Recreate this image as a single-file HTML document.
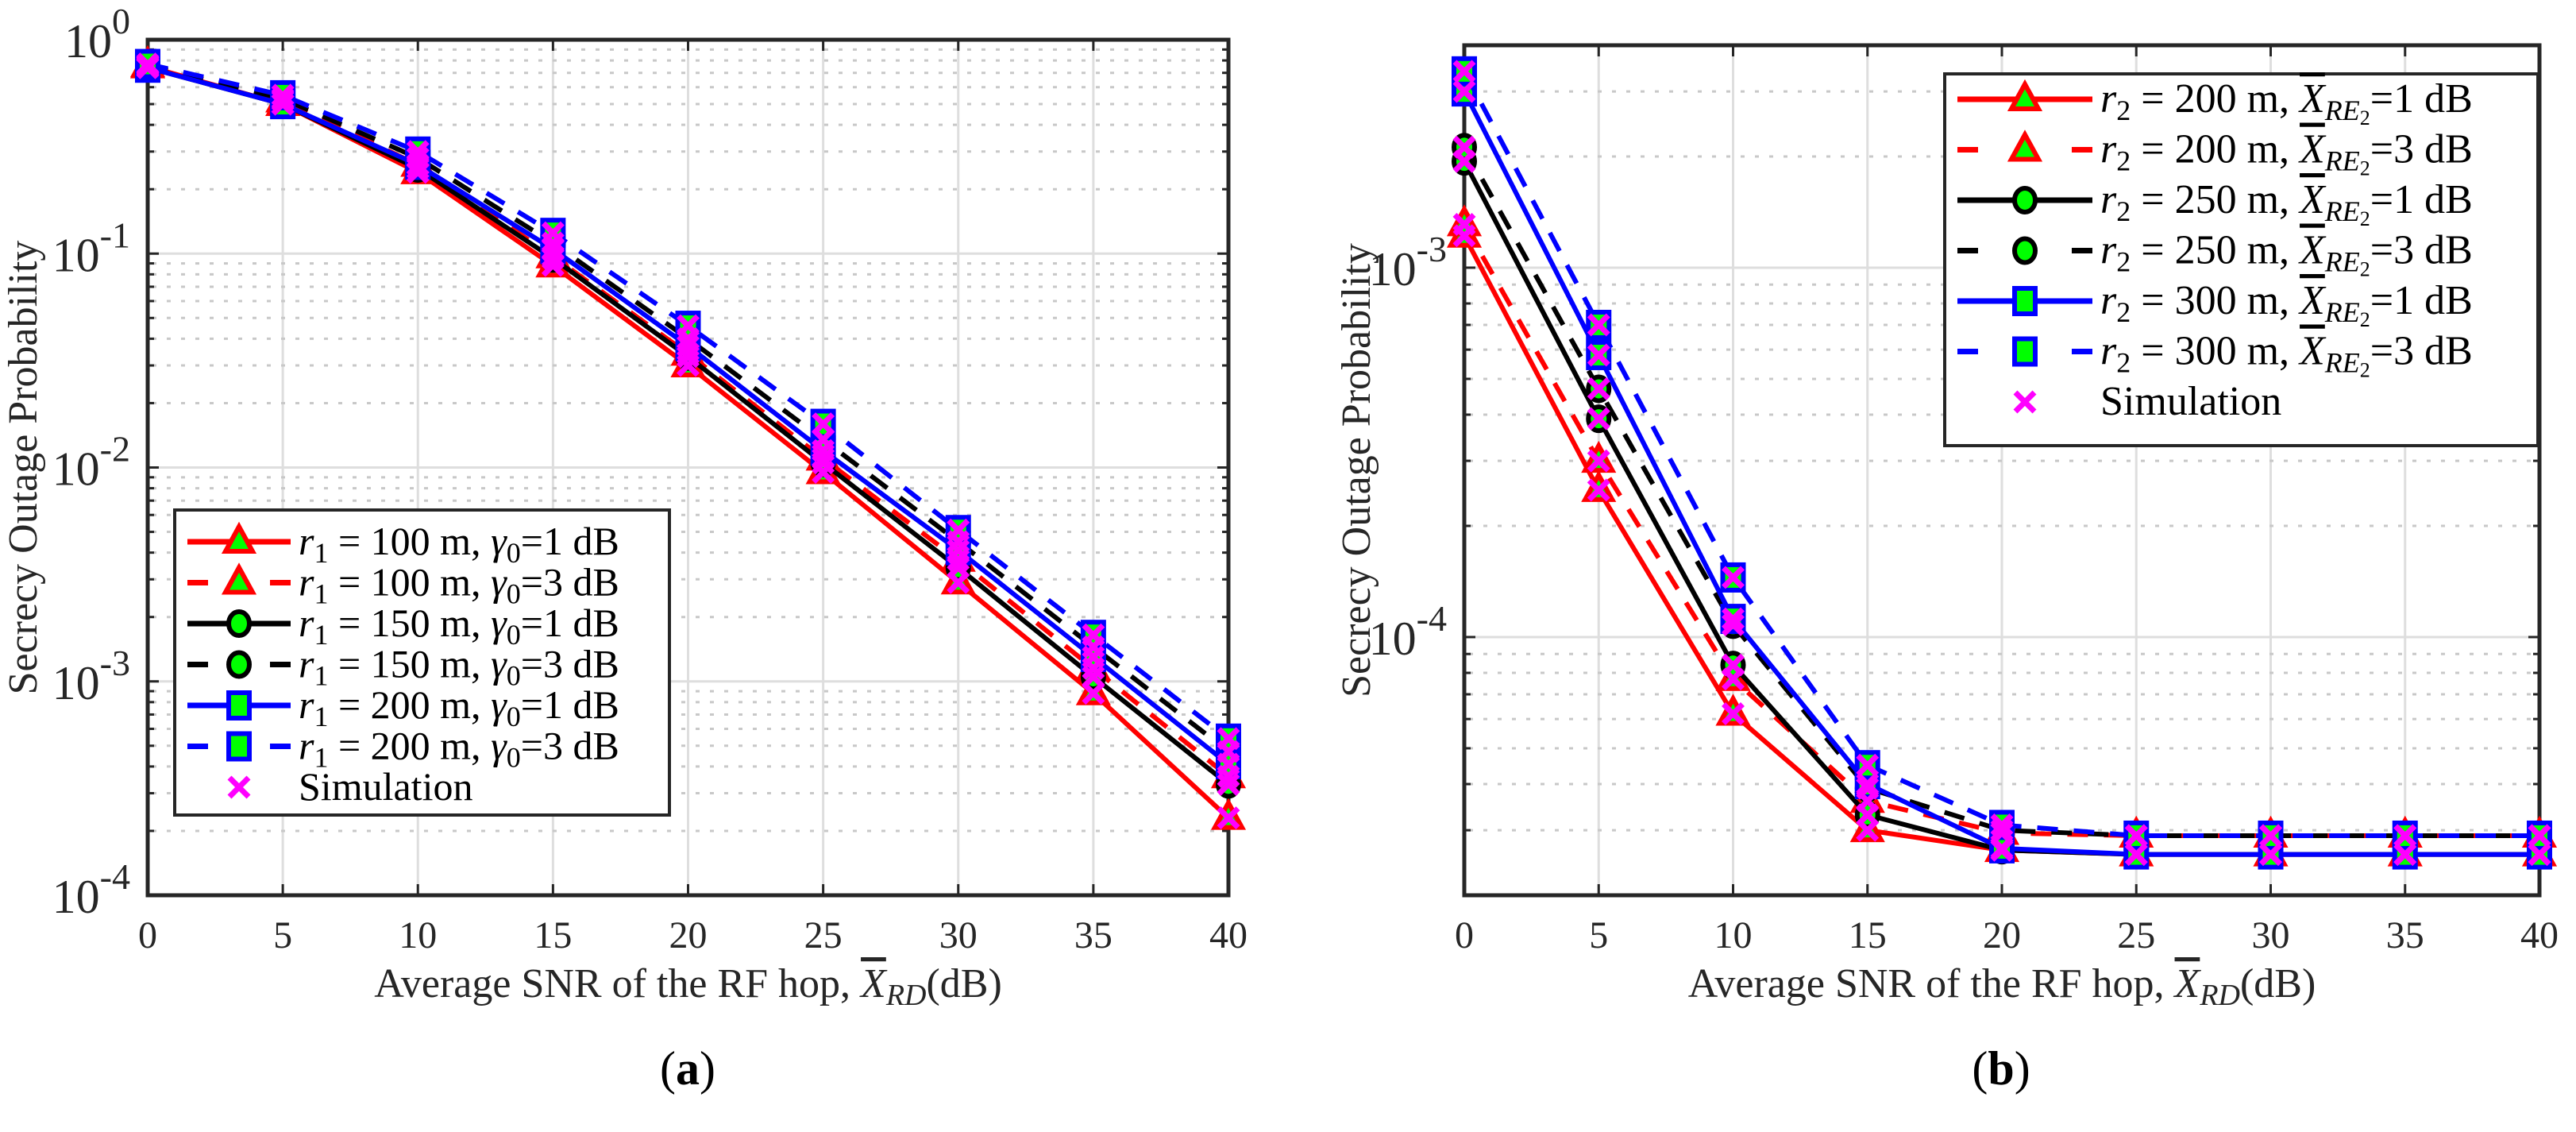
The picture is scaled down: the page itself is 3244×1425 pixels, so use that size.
<!DOCTYPE html>
<html><head><meta charset="utf-8"><style>
html,body{margin:0;padding:0;background:#fff;}
svg{display:block;}
svg text, svg tspan{font-family:"Liberation Serif","DejaVu Serif",serif !important;}
</style></head><body>
<svg id="fig" width="3244" height="1425" viewBox="0 0 3244 1425" xmlns="http://www.w3.org/2000/svg" font-family="Liberation Serif, DejaVu Serif, serif">
<rect width="3244" height="1425" fill="#fff"/>
<g id="plotA"></g>
<g id="plotB"></g>
<text x="866" y="1365" font-size="60" text-anchor="middle" fill="#000">(<tspan font-weight="bold">a</tspan>)</text>
<text x="2520" y="1365" font-size="60" text-anchor="middle" fill="#000">(<tspan font-weight="bold">b</tspan>)</text>
</svg>
<script>
const xVals=[0,5,10,15,20,25,30,35,40];
const xTicks=[0,5,10,15,20,25,30,35,40];
// Plot (a)
const aR1=[0.75,0.50,0.24,0.088,0.030,0.0095,0.0029,0.00088,0.00023];
const aR3=[0.76,0.52,0.26,0.097,0.034,0.011,0.0037,0.00115,0.00036];
const aK1=[0.74,0.50,0.25,0.095,0.033,0.0105,0.0034,0.00105,0.00033];
const aK3=[0.76,0.53,0.28,0.112,0.040,0.0135,0.0045,0.00145,0.00047];
const aB1=[0.74,0.50,0.26,0.105,0.037,0.012,0.0041,0.0013,0.00041];
const aB3=[0.77,0.55,0.30,0.125,0.046,0.016,0.0051,0.00165,0.00054];
// Plot (b)
const bR1=[0.00122,0.00025,0.000062,0.000030,0.0000265,0.0000258,0.0000258,0.0000258,0.0000258];
const bR3=[0.00131,0.00030,0.000077,0.000036,0.0000295,0.000029,0.000029,0.000029,0.000029];
const bK1=[0.00194,0.00039,0.000084,0.000033,0.0000265,0.0000258,0.0000258,0.0000258,0.0000258];
const bK3=[0.00212,0.00047,0.000108,0.000039,0.000030,0.000029,0.000029,0.000029,0.000029];
const bB1=[0.00300,0.00058,0.000112,0.000040,0.0000268,0.0000258,0.0000258,0.0000258,0.0000258];
const bB3=[0.00340,0.00070,0.000145,0.000045,0.000031,0.000029,0.000029,0.000029,0.000029];

const NS="http://www.w3.org/2000/svg";
function el(tag,attrs,parent){const e=document.createElementNS(NS,tag);for(const k in attrs)e.setAttribute(k,attrs[k]);parent.appendChild(e);return e;}

function marker(g,type,cx,cy){
  let m;
  if(type==='tri'){
    m=el('polygon',{points:`${cx},${cy-19} ${cx-17},${cy+12} ${cx+17},${cy+12}`,fill:'#00ff00',stroke:'#ff0000','stroke-width':6,'stroke-linejoin':'miter'},g);
  }else if(type==='circ'){
    m=el('ellipse',{cx:cx,cy:cy,rx:13,ry:15,fill:'#00ff00',stroke:'#000','stroke-width':6},g);
  }else{
    m=el('rect',{x:cx-13,y:cy-16,width:26,height:32,fill:'#00ff00',stroke:'#0000ff','stroke-width':6},g);
  }
  return m;
}
function xmark(g,cx,cy){
  return el('path',{d:`M${cx-12},${cy-12}L${cx+12},${cy+12}M${cx-12},${cy+12}L${cx+12},${cy-12}`,stroke:'#ff00ff','stroke-width':7,fill:'none'},g);
}

function drawPlot(root,cfg){
  const {L,R,T,B,ymin,ymax}=cfg;
  const lmin=Math.log10(ymin),lmax=Math.log10(ymax);
  const sx=v=>L+(v-0)/(40-0)*(R-L);
  const sy=v=>B-(Math.log10(v)-lmin)/(lmax-lmin)*(B-T);
  const grid=el('g',{},root);
  
  
  xTicks.forEach(t=>{el('line',{x1:sx(t),x2:sx(t),y1:T,y2:B,stroke:'#dedede','stroke-width':3},grid);});
  for(let d=Math.floor(lmin);d<=Math.ceil(lmax);d++){
    for(let k=1;k<=9;k++){
      const v=k*Math.pow(10,d);
      if(v<ymin*0.999||v>ymax*1.001)continue;
      const y=sy(v);
      if(k===1){el('line',{x1:L,x2:R,y1:y,y2:y,stroke:'#dedede','stroke-width':3},grid);}
      else{el('line',{x1:L+6,x2:R,y1:y,y2:y,stroke:'#c8c8c8','stroke-width':3,'stroke-dasharray':'5 13'},grid);}
      const tl=k===1?14:8;
      el('line',{x1:L,x2:L+tl,y1:y,y2:y,stroke:'#262626','stroke-width':3},grid);
      el('line',{x1:R,x2:R-tl,y1:y,y2:y,stroke:'#262626','stroke-width':3},grid);
      if(k===1){
        const lab=el('text',{x:L-22,y:y+22,'font-size':60,'text-anchor':'end',fill:'#262626'},root);
        
        
        lab.innerHTML=`10<tspan dy="-30" font-size="46">${d}</tspan>`;
      }
    }
  }
  xTicks.forEach(t=>{
    el('line',{x1:sx(t),x2:sx(t),y1:B,y2:B-14,stroke:'#262626','stroke-width':3},grid);
    el('line',{x1:sx(t),x2:sx(t),y1:T,y2:T+14,stroke:'#262626','stroke-width':3},grid);
    const lab=el('text',{x:sx(t),y:B+66,'font-size':48,'text-anchor':'middle',fill:'#262626'},root);
    
    
    lab.textContent=t;
  });
  const box=el('rect',{x:L,y:T,width:R-L,height:B-T,fill:'none',stroke:'#262626','stroke-width':5},root);
  
  
  cfg.series.forEach(s=>{
    const sg=el('g',{},root);
    
    
    const d=s.data.map((v,i)=>(i?'L':'M')+sx(xVals[i])+','+sy(v)).join('');
    el('path',{d:d,fill:'none',stroke:s.color,'stroke-width':6,'stroke-dasharray':s.dash?'26 20':'none'},sg);
    s.data.forEach((v,i)=>{marker(sg,s.mk,sx(xVals[i]),sy(v));});
  });
  cfg.series.forEach(s=>{
    const sg=el('g',{},root);
    
    
    s.data.forEach((v,i)=>{xmark(sg,sx(xVals[i]),sy(v));});
  });
  const xl=el('text',{x:(L+R)/2,y:B+128,'font-size':52,'text-anchor':'middle',fill:'#262626'},root);
  
  
  xl.innerHTML='Average SNR of the RF hop, <tspan font-style="italic" text-decoration="overline">X</tspan><tspan font-style="italic" font-size="38" dy="10">RD</tspan><tspan dy="-10">(dB)</tspan>';
  const yl=el('text',{x:0,y:0,'font-size':52,'text-anchor':'middle',fill:'#262626',transform:`translate(${cfg.ylx},${(T+B)/2}) rotate(-90)`},root);
  
  
  yl.textContent='Secrecy Outage Probability';
  const lg=el('g',{},root);
  
  
  const LG=cfg.legend;
  el('rect',{x:LG.x,y:LG.y,width:LG.w,height:LG.h,fill:'#fff',stroke:'#262626','stroke-width':4},lg);
  const entries=cfg.series.concat([{sim:true}]);
  entries.forEach((s,i)=>{
    const cy=LG.y+LG.r0+i*LG.pitch;
    const eg=el('g',{},lg);
    
    
    const x0=LG.x+16,x1=LG.x+16+LG.sw,cx=(x0+x1)/2;
    if(s.sim){xmark(eg,cx,cy);}
    else{
      if(s.dash){
        el('line',{x1:x0,x2:x0+26,y1:cy,y2:cy,stroke:s.color,'stroke-width':7},eg);
        el('line',{x1:x1-26,x2:x1,y1:cy,y2:cy,stroke:s.color,'stroke-width':7},eg);
      }else{
        el('line',{x1:x0,x2:x1,y1:cy,y2:cy,stroke:s.color,'stroke-width':7},eg);
      }
      marker(eg,s.mk,cx,cy);
    }
    const t=el('text',{x:x1+10,y:cy+16,'font-size':LG.fs,fill:'#000'},eg);
    t.innerHTML=s.sim?'Simulation':s.label;
  });
}

const lblA=(r,g)=>`<tspan font-style="italic">r</tspan><tspan font-size="36" dy="10">1</tspan><tspan dy="-10"> = ${r} m, </tspan><tspan font-style="italic">γ</tspan><tspan font-size="36" dy="10">0</tspan><tspan dy="-10">=${g} dB</tspan>`;
const lblB=(r,g)=>`<tspan font-style="italic">r</tspan><tspan font-size="36" dy="10">2</tspan><tspan dy="-10"> = ${r} m, </tspan><tspan font-style="italic" text-decoration="overline">X</tspan><tspan font-style="italic" font-size="36" dy="10">RE</tspan><tspan font-size="26" dy="6">2</tspan><tspan dy="-16">=${g} dB</tspan>`;

drawPlot(document.getElementById('plotA'),{
  L:186,R:1547,T:50,B:1127,ymin:1e-4,ymax:1,ylx:46,
  legend:{x:220,y:642,w:623,h:384,r0:40,pitch:51.5,sw:130,fs:50},
  series:[
    {name:'series-r1-100-g1',data:aR1,color:'#ff0000',mk:'tri',dash:false,label:lblA(100,1)},
    {name:'series-r1-100-g3',data:aR3,color:'#ff0000',mk:'tri',dash:true,label:lblA(100,3)},
    {name:'series-r1-150-g1',data:aK1,color:'#000000',mk:'circ',dash:false,label:lblA(150,1)},
    {name:'series-r1-150-g3',data:aK3,color:'#000000',mk:'circ',dash:true,label:lblA(150,3)},
    {name:'series-r1-200-g1',data:aB1,color:'#0000ff',mk:'sq',dash:false,label:lblA(200,1)},
    {name:'series-r1-200-g3',data:aB3,color:'#0000ff',mk:'sq',dash:true,label:lblA(200,3)}
  ]
});
drawPlot(document.getElementById('plotB'),{
  L:1844,R:3198,T:57,B:1127,ymin:2e-5,ymax:4e-3,ylx:1725,
  legend:{x:2449,y:93,w:747,h:468,r0:32,pitch:63.5,sw:170,fs:52},
  series:[
    {name:'series-r2-200-x1',data:bR1,color:'#ff0000',mk:'tri',dash:false,label:lblB(200,1)},
    {name:'series-r2-200-x3',data:bR3,color:'#ff0000',mk:'tri',dash:true,label:lblB(200,3)},
    {name:'series-r2-250-x1',data:bK1,color:'#000000',mk:'circ',dash:false,label:lblB(250,1)},
    {name:'series-r2-250-x3',data:bK3,color:'#000000',mk:'circ',dash:true,label:lblB(250,3)},
    {name:'series-r2-300-x1',data:bB1,color:'#0000ff',mk:'sq',dash:false,label:lblB(300,1)},
    {name:'series-r2-300-x3',data:bB3,color:'#0000ff',mk:'sq',dash:true,label:lblB(300,3)}
  ]
});
</script>
</body></html>
